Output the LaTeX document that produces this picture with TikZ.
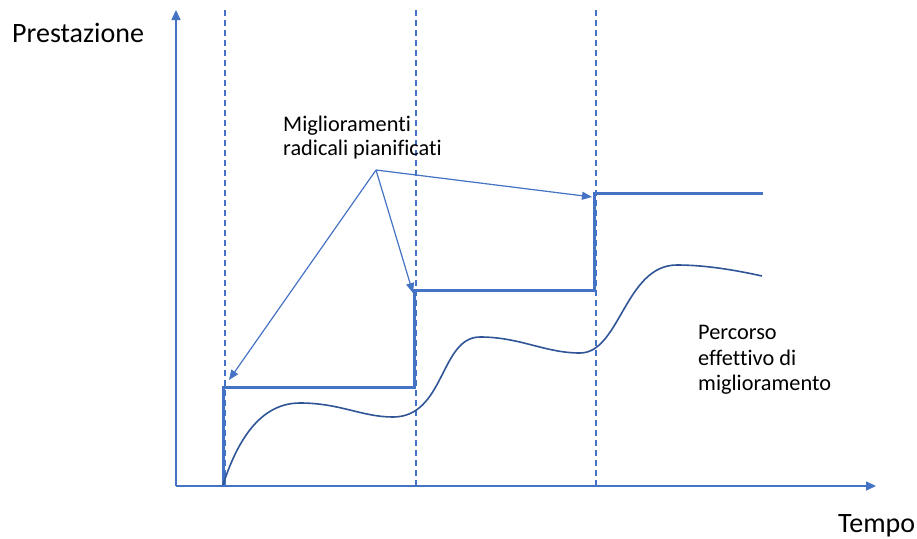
\documentclass[tikz,border=0pt]{standalone}
\usepackage{fontspec}
\setmainfont[Ligatures={NoCommon}]{Carlito}
\usetikzlibrary{arrows.meta}
\definecolor{offblue}{HTML}{4472C4}
\definecolor{curveblue}{HTML}{2F5597}
\tikzset{
  axis/.style={draw=offblue, line width=1.6pt, -{Triangle[length=10pt,width=9pt]}},
  guide/.style={draw=offblue, line width=1.4pt, dash pattern=on 6pt off 4pt},
  stepline/.style={draw=offblue, line width=3pt, line join=miter},
  realpath/.style={draw=curveblue, line width=1.6pt},
  pointer/.style={draw=offblue, line width=1.2pt, -{Triangle[length=10pt,width=8pt]}},
  lbl/.style={text=black, inner sep=0pt, anchor=base west},
  bigtxt/.style={font=\fontsize{28}{33}\selectfont},
  smalltxt/.style={font=\fontsize{22.3}{26}\selectfont}
}
\begin{document}
\begin{tikzpicture}[x=1pt, y=-1pt]
\useasboundingbox (0,0) rectangle (917,538);

% axis anchors
\coordinate (origin) at (176,486);
\coordinate (ytop) at (176,10);
\coordinate (xend) at (876,486);

% dashed time markers
\coordinate (g1t) at (225,10);  \coordinate (g1b) at (225,486);
\coordinate (g2t) at (416,10);  \coordinate (g2b) at (416,486);
\coordinate (g3t) at (596,10);  \coordinate (g3b) at (596,486);
\draw[guide] (g1t) -- (g1b);
\draw[guide] (g2t) -- (g2b);
\draw[guide] (g3t) -- (g3b);

% axes
\draw[axis] (origin) -- (ytop);
\draw[axis] (origin) -- (xend);

% planned radical improvements (staircase)
\coordinate (s0) at (223,486);
\coordinate (s1) at (223,387);
\coordinate (s2) at (414,387);
\coordinate (s3) at (414,290);
\coordinate (s4) at (594,290);
\coordinate (s5) at (594,193);
\coordinate (s6) at (763,193);
\draw[stepline] (s0) -- (s1) -- (s2) -- (s3) -- (s4) -- (s5) -- (s6);

% actual improvement path
\draw[realpath] (223,485)
  .. controls (240,432) and (265,403) .. (300,403)
  .. controls (340,403) and (362,417) .. (393,417)
  .. controls (445,417) and (440,337) .. (480,337)
  .. controls (520,337) and (545,353) .. (580,353)
  .. controls (620,353) and (625,265) .. (677,265)
  .. controls (705,265) and (735,270) .. (762,276);

% labels
\node[lbl, bigtxt] (ylab) at (12,42) {Prestazione};
\node[lbl, bigtxt] (xlab) at (838,532) {Tempo};
\node[lbl, smalltxt] (m1) at (283,131) {Miglioramenti};
\node[lbl, smalltxt] (m2) at (283,155) {radicali pianificati};
\node[lbl, smalltxt] (p1) at (698,339) {Percorso};
\node[lbl, smalltxt] (p2) at (698,365) {effettivo di};
\node[lbl, smalltxt] (p3) at (698,390) {miglioramento};

% pointers from the label to each step
\coordinate (apex) at (376,170);
\coordinate (t1) at (229,380);
\coordinate (t2) at (413,293);
\coordinate (t3) at (592,197);
\draw[pointer] (apex) -- (t1);
\draw[pointer] (apex) -- (t2);
\draw[pointer] (apex) -- (t3);
\end{tikzpicture}
\end{document}
